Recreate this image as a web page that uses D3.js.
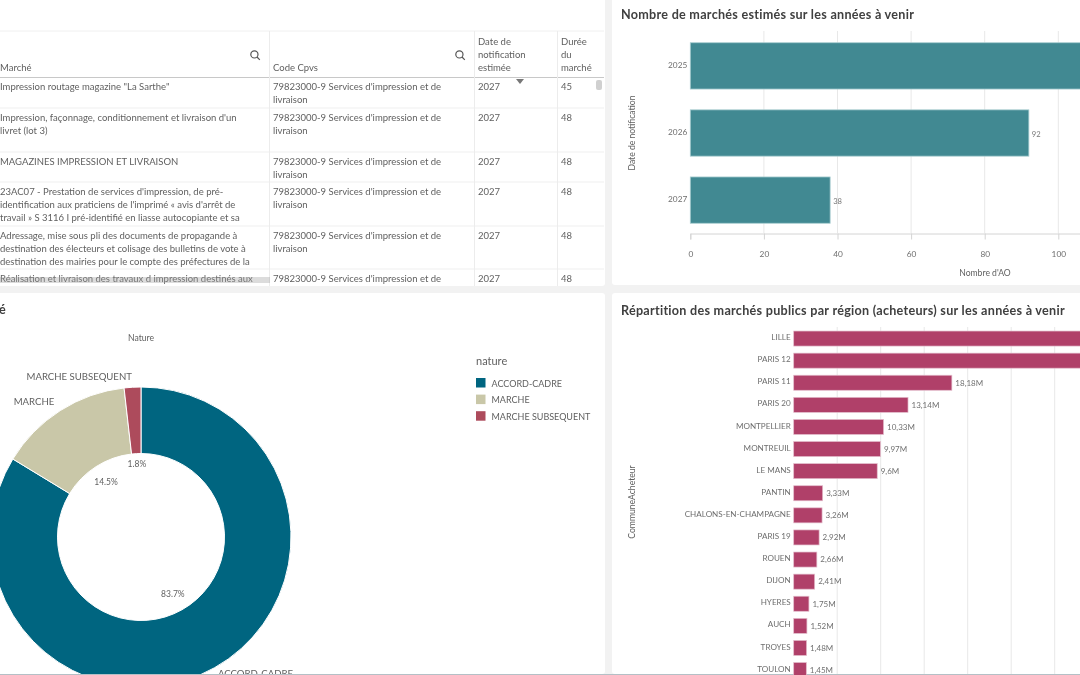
<!DOCTYPE html>
<html>
<head>
<meta charset="utf-8">
<script src="https://cdn.jsdelivr.net/npm/d3@7"></script>
<style>
  html, body { margin: 0; padding: 0; background: #f2f2f2; overflow: hidden; }
  svg { display: block; font-family: "Lato", "Open Sans", sans-serif; filter: blur(0.35px); }
  svg g { font-family: "Lato", "Open Sans", sans-serif; }
  .domain { stroke: #d4d4d4; }
  .tick line { stroke: #d4d4d4; }
  .tick text { fill: #6e6e6e; }
</style>
</head>
<body>
<svg id="chart" width="1080" height="675"></svg>
<script>
// Table
const tableHeaders = [["Marché"], ["Code Cpvs"], ["Date de", "notification", "estimée"], ["Durée", "du", "marché"]];
const marcheLines = [
  ["Impression routage magazine \"La Sarthe\""],
  ["Impression, façonnage, conditionnement et livraison d'un", "livret (lot 3)"],
  ["MAGAZINES IMPRESSION ET LIVRAISON"],
  ["23AC07 - Prestation de services d'impression, de pré-", "identification aux praticiens de l'imprimé « avis d'arrêt de", "travail » S 3116 I pré-identifié en liasse autocopiante et sa"],
  ["Adressage, mise sous pli des documents de propagande à", "destination des électeurs et colisage des bulletins de vote à", "destination des mairies pour le compte des préfectures de la"],
  ["Réalisation et livraison des travaux d impression destinés aux"]
];
const cpvLines = ["79823000-9 Services d'impression et de", "livraison"];
const notifYears = [2027, 2027, 2027, 2027, 2027, 2027];
const durees = [45, 48, 48, 48, 48, 48];

// Top right bars
const years = ["2025", "2026", "2027"];
const yearCounts = [130, 92, 38];   // 2025 runs off the picture, estimated
const countTicks = [0, 20, 40, 60, 80, 100];

// Donut
const natures = ["ACCORD-CADRE", "MARCHE", "MARCHE SUBSEQUENT"];
const natureShares = [83.7, 14.5, 1.8];
const natureColors = ["#006580", "#c9c7a8", "#ad4b5c"];

// Bottom right bars
const communes = ["LILLE", "PARIS 12", "PARIS 11", "PARIS 20", "MONTPELLIER", "MONTREUIL", "LE MANS", "PANTIN",
  "CHALONS-EN-CHAMPAGNE", "PARIS 19", "ROUEN", "DIJON", "HYERES", "AUCH", "TROYES", "TOULON"];
const communeValues = [42, 39, 18.18, 13.14, 10.33, 9.97, 9.6, 3.33, 3.26, 2.92, 2.66, 2.41, 1.75, 1.52, 1.48, 1.45]; // first two estimated
const communeLabels = ["", "", "18,18M", "13,14M", "10,33M", "9,97M", "9,6M", "3,33M", "3,26M", "2,92M", "2,66M", "2,41M", "1,75M", "1,52M", "1,48M", "1,45M"];
const communeTicks = [5, 10, 15, 20, 25, 30];

const svg = d3.select("#chart");
const textColor = "#5f5f5f";

// Panels
const panels = [[-5, -5, 610, 291], [612, -5, 473, 290], [-5, 293, 610, 381], [612, 293, 473, 381]];
svg.selectAll("rect.panel").data(panels).join("rect")
  .attr("class", "panel")
  .attr("x", d => d[0]).attr("y", d => d[1])
  .attr("width", d => d[2]).attr("height", d => d[3])
  .attr("rx", 3).attr("fill", "#fff");
svg.append("rect").attr("x", 0).attr("y", 674).attr("width", 1080).attr("height", 1).attr("fill", "#b4c0c6");

function title(x, y, txt, anchor) {
  svg.append("text").attr("x", x).attr("y", y).attr("text-anchor", anchor || "start")
    .attr("font-size", 12.6).attr("font-weight", 700).attr("letter-spacing", 0.27)
    .attr("fill", "#404040").text(txt);
}

// ---- table ----
const colX = [0, 269, 474, 557];
const rowY = [77, 108, 152, 182, 226, 269, 286];
const table = svg.append("g").attr("font-size", 9.5).attr("fill", textColor);

rowY.slice(1, 6).forEach(y => {
  table.append("line").attr("x1", 0).attr("x2", 604).attr("y1", y).attr("y2", y).attr("stroke", "#efefef");
});
table.append("line").attr("x1", 0).attr("x2", 604).attr("y1", 31).attr("y2", 31).attr("stroke", "#f0f0f0");
table.append("line").attr("x1", 0).attr("x2", 604).attr("y1", 77.5).attr("y2", 77.5).attr("stroke", "#c8c8c8");
colX.slice(1).forEach(x => {
  table.append("line").attr("x1", x + 0.5).attr("x2", x + 0.5).attr("y1", 31).attr("y2", 286).attr("stroke", "#ececec");
});

function cell(x, y, lines) {
  lines.forEach((l, i) => {
    table.append("text").attr("x", x).attr("y", y + i * 12.8).text(l);
  });
}
tableHeaders.forEach((h, i) => {
  cell(i === 0 ? 0 : colX[i] + 4, 71 - (h.length - 1) * 12.8, h);
});
marcheLines.forEach((m, i) => {
  const y = rowY[i] + 13;
  cell(0, y, m);
  cell(273, y, i === 5 ? cpvLines.slice(0, 1) : cpvLines);
  cell(478, y, [notifYears[i]]);
  cell(561, y, [durees[i]]);
});

// search icons
[255, 460].forEach(x => {
  const g = svg.append("g").attr("transform", `translate(${x},55)`).attr("fill", "none").attr("stroke", "#555").attr("stroke-width", 1.2);
  g.append("circle").attr("r", 3.6).attr("cx", -0.6).attr("cy", -0.6);
  g.append("line").attr("x1", 2).attr("y1", 2).attr("x2", 4.8).attr("y2", 4.8);
});
// sort arrow
svg.append("path").attr("d", "M516,79 L524,79 L520,84 Z").attr("fill", "#777");
// scrollbars and bottom fade
svg.append("rect").attr("x", 596).attr("y", 80).attr("width", 6).attr("height", 10).attr("rx", 2).attr("fill", "#d0d0d0");
svg.append("rect").attr("x", 0).attr("y", 277).attr("width", 270).attr("height", 6).attr("fill", "#9a9a9a").attr("opacity", 0.35);

// ---- top right bars ----
const x1 = d3.scaleLinear().domain([0, 120]).range([690.3, 690.3 + 120 * 3.68]);
const y1 = d3.scaleBand().domain(years).range([32, 234]).paddingInner(0.31).paddingOuter(0.16);

title(621, 19, "Nombre de marchés estimés sur les années à venir");

svg.append("g").selectAll("line").data(countTicks.slice(1)).join("line")
  .attr("x1", d => x1(d)).attr("x2", d => x1(d)).attr("y1", 31).attr("y2", 233)
  .attr("stroke", "#e8e8e8");

svg.selectAll("rect.year").data(years).join("rect")
  .attr("class", "year")
  .attr("x", x1(0)).attr("y", d => y1(d))
  .attr("width", (d, i) => x1(yearCounts[i]) - x1(0)).attr("height", y1.bandwidth())
  .attr("fill", "#418992").attr("stroke", "#a9cdd1").attr("stroke-width", 0.8);

// the 2025 label lies past the right edge of the picture
svg.selectAll("text.yearval").data(years.slice(1)).join("text")
  .attr("class", "yearval")
  .attr("x", (d, i) => x1(yearCounts[i + 1]) + 3).attr("y", d => y1(d) + y1.bandwidth() / 2 + 3.5)
  .attr("font-size", 7.6).attr("fill", "#777")
  .text((d, i) => yearCounts[i + 1]);

const axX1 = svg.append("g").attr("transform", "translate(0,233.5)")
  .call(d3.axisBottom(x1).tickValues(countTicks).tickSize(6).tickPadding(12));
axX1.attr("font-family", null);
axX1.selectAll("text").attr("font-size", 8.3);

const axY1 = svg.append("g").attr("transform", "translate(690.3,0)")
  .call(d3.axisLeft(y1).tickSize(0).tickPadding(3));
axY1.attr("font-family", null);
axY1.select(".domain").remove();
axY1.selectAll("text").attr("font-size", 8.3).attr("dy", "0.25em");

svg.append("text").attr("x", 985).attr("y", 276).attr("text-anchor", "middle")
  .attr("font-size", 8.6).attr("fill", textColor).text("Nombre d'AO");
svg.append("text").attr("transform", "translate(635,133) rotate(-90)").attr("text-anchor", "middle")
  .attr("font-size", 8.6).attr("fill", textColor).text("Date de notification");

// ---- donut ----
title(6, 314, "é", "end");

const cx = 141, cy = 537;
const pie = d3.pie().sort(null).value(d => d);
const arcs = pie(natureShares);
const arc = d3.arc().innerRadius(83.5).outerRadius(150);
const labelRadius = [65, 65, 73];
const outerLabelRadius = [157, 161, 161];
svg.append("clipPath").attr("id", "leftClip").append("rect")
  .attr("x", 0).attr("y", 293).attr("width", 605).attr("height", 381);
const donut = svg.append("g").attr("clip-path", "url(#leftClip)")
  .append("g").attr("transform", `translate(${cx},${cy})`);

donut.selectAll("path").data(arcs).join("path")
  .attr("d", arc).attr("fill", (d, i) => natureColors[i])
  .attr("stroke", "#fff").attr("stroke-width", 1);

function polar(a, r) { return [Math.sin(a) * r, -Math.cos(a) * r]; }
donut.selectAll("text.pct").data(arcs).join("text")
  .attr("class", "pct")
  .attr("transform", (d, i) => `translate(${polar((d.startAngle + d.endAngle) / 2, labelRadius[i])})`)
  .attr("text-anchor", "middle").attr("dy", "0.35em")
  .attr("font-size", 8.5).attr("fill", textColor)
  .text(d => d.data + "%");
donut.selectAll("text.out").data(arcs).join("text")
  .attr("class", "out")
  .attr("transform", (d, i) => `translate(${polar((d.startAngle + d.endAngle) / 2, outerLabelRadius[i])})`)
  .attr("text-anchor", d => (d.startAngle + d.endAngle) / 2 < Math.PI ? "start" : "end")
  .attr("dy", "0.35em").attr("font-size", 9.6).attr("fill", textColor)
  .text((d, i) => natures[i]);

svg.append("text").attr("x", 141).attr("y", 341).attr("text-anchor", "middle")
  .attr("font-size", 8.6).attr("fill", textColor).text("Nature");

svg.append("text").attr("x", 476).attr("y", 365).attr("font-size", 11).attr("fill", textColor).text("nature");
const legend = svg.selectAll("g.legend").data(natures).join("g")
  .attr("class", "legend")
  .attr("transform", (d, i) => `translate(476,${378 + i * 16.6})`);
legend.append("rect").attr("width", 9.5).attr("height", 9.5).attr("fill", (d, i) => natureColors[i]);
legend.append("text").attr("x", 15.5).attr("y", 8.5).attr("font-size", 9).attr("fill", textColor).text(d => d);

// ---- bottom right bars ----
const x2 = d3.scaleLinear().domain([0, 45]).range([793.7, 793.7 + 45 * 8.7]);
const y2 = d3.scaleBand().domain(communes).range([327.5, 327.5 + 16 * 22.1]).paddingInner(0.32).paddingOuter(0.16);

title(621, 315, "Répartition des marchés publics par région (acheteurs) sur les années à venir");

svg.append("g").selectAll("line").data(communeTicks).join("line")
  .attr("x1", d => x2(d)).attr("x2", d => x2(d)).attr("y1", 327).attr("y2", 674)
  .attr("stroke", "#e8e8e8");

svg.selectAll("rect.commune").data(communes).join("rect")
  .attr("class", "commune")
  .attr("x", x2(0)).attr("y", d => y2(d))
  .attr("width", (d, i) => x2(communeValues[i]) - x2(0)).attr("height", y2.bandwidth())
  .attr("fill", "#b04069").attr("stroke", "#e3bccb").attr("stroke-width", 0.7);

svg.selectAll("text.comval").data(communes).join("text")
  .attr("class", "comval")
  .attr("x", (d, i) => x2(communeValues[i]) + 3.5).attr("y", d => y2(d) + y2.bandwidth() / 2 + 2.8)
  .attr("font-size", 8).attr("fill", "#707070")
  .text((d, i) => communeLabels[i]);

const axY2 = svg.append("g").attr("transform", "translate(793.7,0)")
  .call(d3.axisLeft(y2).tickSize(0).tickPadding(3));
axY2.attr("font-family", null);
axY2.select(".domain").remove();
axY2.selectAll("text").attr("font-size", 8.1).attr("dy", "0.2em");

svg.append("text").attr("transform", "translate(635,502) rotate(-90)").attr("text-anchor", "middle")
  .attr("font-size", 8.6).attr("fill", textColor).text("CommuneAcheteur");
</script>
</body>
</html>
